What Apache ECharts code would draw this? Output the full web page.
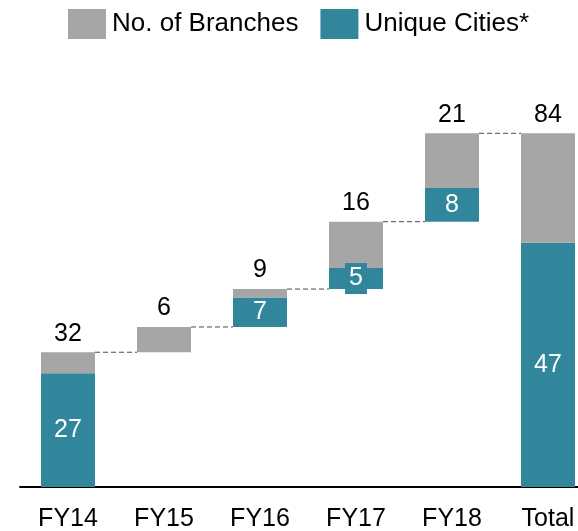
<!DOCTYPE html>
<html>
<head>
  <meta charset="utf-8">
  <title>Branches waterfall</title>
  <script src="https://cdn.jsdelivr.net/npm/echarts@6/dist/echarts.min.js"></script>
</head>
<body style="margin:0">
  <div id="main" style="width:578px;height:531px;"></div>
  <script type="text/javascript">
    var categories = ['FY14', 'FY15', 'FY16', 'FY17', 'FY18', 'Total'];
    var branches = [32, 6, 9, 16, 21, 84];
    // teal segment height as drawn (the Total bar is drawn taller than its label)
    var cities = [27, 0, 7, 5, 8, 58];
    var cityLabels = ['27', '', '7', '5', '8', '47'];

    var GRAY = '#a6a6a6';
    var TEAL = '#31869b';

    // invisible base for the floating bars
    var base = [];
    var tops = [];
    var run = 0;
    for (var i = 0; i < categories.length; i++) {
      if (i === categories.length - 1) {
        base.push(0);
      } else {
        base.push(run);
        run += branches[i];
      }
      tops.push(base[i] + branches[i]);
    }
    var rest = branches.map(function (b, i) { return b - cities[i]; });

    var cityData = cities.map(function (v, i) {
      var item = { value: v };
      if (categories[i] === 'FY17') {
        item.label = { backgroundColor: TEAL, padding: [3, 4, 3, 4] };
      }
      return item;
    });

    var connectors = [];
    for (var j = 0; j < categories.length - 1; j++) connectors.push([j, tops[j]]);

    var myChart = echarts.init(document.getElementById('main'));
    var option = {
      animation: false,
      textStyle: { fontFamily: 'Liberation Sans, Arial, sans-serif' },
      legend: {
        left: 68, top: 9, padding: 0,
        itemWidth: 38, itemHeight: 30, itemGap: 22,
        textStyle: { fontSize: 26, color: '#000', padding: [0, 0, 0, 1] },
        data: [
          { name: 'No. of Branches', icon: 'rect', itemStyle: { color: GRAY } },
          { name: 'Unique Cities*', icon: 'rect', itemStyle: { color: TEAL } }
        ]
      },
      grid: { left: 20, width: 576, top: 108, bottom: 44, outerBoundsMode: 'none' },
      xAxis: {
        type: 'category',
        data: categories,
        axisTick: { show: false },
        axisLine: { lineStyle: { color: '#000', width: 2 } },
        axisLabel: { fontSize: 25, color: '#000', margin: 20 }
      },
      yAxis: { type: 'value', min: 0, max: 90, show: false, splitLine: { show: false } },
      series: [{
        name: 'base', type: 'bar', stack: 'w', barWidth: 54,
        itemStyle: { color: 'transparent' }, silent: true,
        data: base
      }, {
        name: 'Unique Cities*', type: 'bar', stack: 'w', barWidth: 54,
        itemStyle: { color: TEAL },
        label: {
          show: true, position: 'inside', color: '#fff', fontSize: 25,
          formatter: function (p) { return cityLabels[p.dataIndex]; }
        },
        data: cityData
      }, {
        name: 'No. of Branches', type: 'bar', stack: 'w', barWidth: 54,
        itemStyle: { color: GRAY },
        label: {
          show: true, position: 'top', color: '#000', fontSize: 25, distance: 6,
          formatter: function (p) { return branches[p.dataIndex]; }
        },
        data: rest
      }, {
        type: 'custom', silent: true, z: 5,
        renderItem: function (params, api) {
          var p = api.coord([api.value(0), api.value(1)]);
          var band = api.size([1, 0])[0];
          var half = 27;
          return {
            type: 'line',
            shape: { x1: p[0] + half, y1: p[1], x2: p[0] + band - half, y2: p[1] },
            style: { stroke: '#4d4d4d', lineWidth: 1, lineDash: [5, 3] }
          };
        },
        data: connectors
      }]
    };
    myChart.setOption(option);
  </script>
</body>
</html>
